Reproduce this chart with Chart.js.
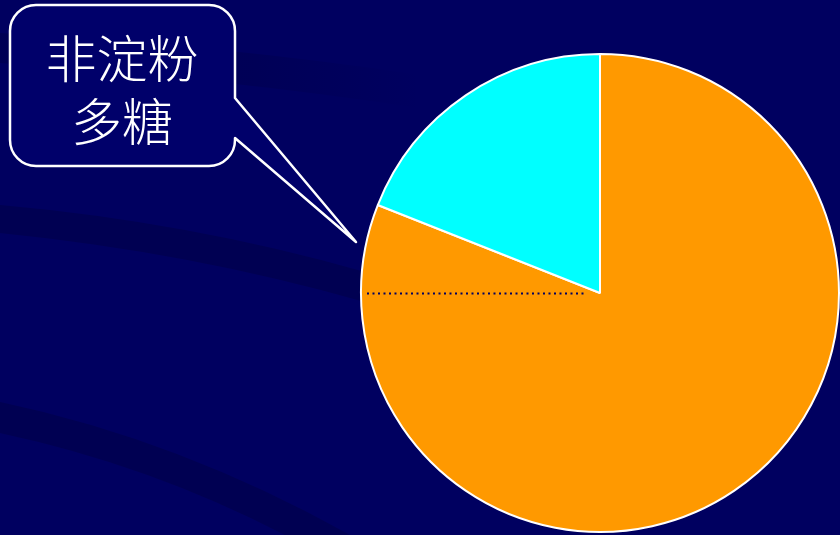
<!DOCTYPE html>
<html>
<head>
<meta charset="utf-8">
<script src="https://cdn.jsdelivr.net/npm/chart.js@4/dist/chart.umd.min.js"></script>
<style>
  html, body { margin: 0; padding: 0; background: #000060; }
  #wrap { width: 840px; height: 535px; }
</style>
</head>
<body>
<div id="wrap"><canvas id="pie" width="840" height="535"></canvas></div>
<script>
// Slice data (clockwise from 12 o'clock)
const categories = ['非淀粉多糖', '其他'];
const shares = [81, 19];
const sliceColors = ['#FF9900', '#00FFFF'];
// Callout text, one entry per line
const calloutLines = ['非淀粉', '多糖'];

// Background fill plus the faint curved streaks
const backdrop = {
    id: 'backdrop',
    beforeDraw(chart) {
        const ctx = chart.ctx;
        ctx.save();
        ctx.fillStyle = '#000060';
        ctx.fillRect(0, 0, chart.width, chart.height);

        // top streak fades out to the right
        const fade = ctx.createLinearGradient(0, 0, 420, 0);
        fade.addColorStop(0, 'rgba(0, 0, 50, 0.25)');
        fade.addColorStop(0.6, 'rgba(0, 0, 50, 0.2)');
        fade.addColorStop(1, 'rgba(0, 0, 50, 0)');
        ctx.fillStyle = fade;
        ctx.beginPath();
        ctx.moveTo(0, 33);
        ctx.quadraticCurveTo(220, 45, 420, 75);
        ctx.lineTo(420, 108);
        ctx.quadraticCurveTo(220, 78, 0, 63);
        ctx.closePath();
        ctx.fill();

        ctx.fillStyle = 'rgba(0, 0, 50, 0.3)';
        ctx.beginPath();
        ctx.moveTo(0, 205);
        ctx.quadraticCurveTo(190, 222, 365, 272);
        ctx.lineTo(365, 302);
        ctx.quadraticCurveTo(190, 252, 0, 233);
        ctx.closePath();
        ctx.fill();

        ctx.beginPath();
        ctx.moveTo(0, 402);
        ctx.quadraticCurveTo(180, 440, 350, 535);
        ctx.lineTo(285, 535);
        ctx.quadraticCurveTo(150, 465, 0, 433);
        ctx.closePath();
        ctx.fill();
        ctx.restore();
    }
};

// Dotted radius line and the speech-bubble callout
const overlay = {
    id: 'overlay',
    afterDraw(chart) {
        const ctx = chart.ctx;
        const arc = chart.getDatasetMeta(0).data[0];
        const cx = arc.x, cy = arc.y, r = arc.outerRadius;

        ctx.save();
        ctx.strokeStyle = '#000060';
        ctx.lineWidth = 2;
        ctx.setLineDash([2, 3.5]);
        ctx.beginPath();
        ctx.moveTo(cx - r + 6, cy + 0.5);
        ctx.lineTo(cx - 14, cy + 0.5);
        ctx.stroke();
        ctx.setLineDash([]);

        // bubble with pointer
        const x0 = 10, y0 = 5, x1 = 235, y1 = 166, rad = 26;
        const tipX = 356, tipY = 242;
        ctx.beginPath();
        ctx.moveTo(x0 + rad, y0);
        ctx.lineTo(x1 - rad, y0);
        ctx.arcTo(x1, y0, x1, y0 + rad, rad);
        ctx.lineTo(x1, 98);
        ctx.lineTo(tipX, tipY);
        ctx.lineTo(x1, 138);
        ctx.lineTo(x1, y1 - rad);
        ctx.arcTo(x1, y1, x1 - rad, y1, rad);
        ctx.lineTo(x0 + rad, y1);
        ctx.arcTo(x0, y1, x0, y1 - rad, rad);
        ctx.lineTo(x0, y0 + rad);
        ctx.arcTo(x0, y0, x0 + rad, y0, rad);
        ctx.closePath();
        ctx.fillStyle = '#00006A';
        ctx.fill();
        ctx.strokeStyle = '#FFFFFF';
        ctx.lineWidth = 2.5;
        ctx.lineJoin = 'round';
        ctx.stroke();

        ctx.fillStyle = '#FFFFFF';
        ctx.font = '300 51px "Noto Sans CJK SC"';
        ctx.textAlign = 'center';
        ctx.textBaseline = 'middle';
        calloutLines.forEach((line, i) => {
            ctx.fillText(line, 122, 59 + i * 63);
        });
        ctx.restore();
    }
};

new Chart(document.getElementById('pie'), {
    type: 'pie',
    data: {
        labels: categories,
        datasets: [{
            data: shares,
            backgroundColor: sliceColors,
            borderColor: '#FFFFFF',
            borderWidth: 2,
            borderAlign: 'center'
        }]
    },
    options: {
        responsive: false,
        animation: false,
        layout: { padding: { left: 360, right: 0, top: 53, bottom: 2 } },
        plugins: {
            legend: { display: false },
            tooltip: { enabled: false }
        }
    },
    plugins: [backdrop, overlay]
});
</script>
</body>
</html>
